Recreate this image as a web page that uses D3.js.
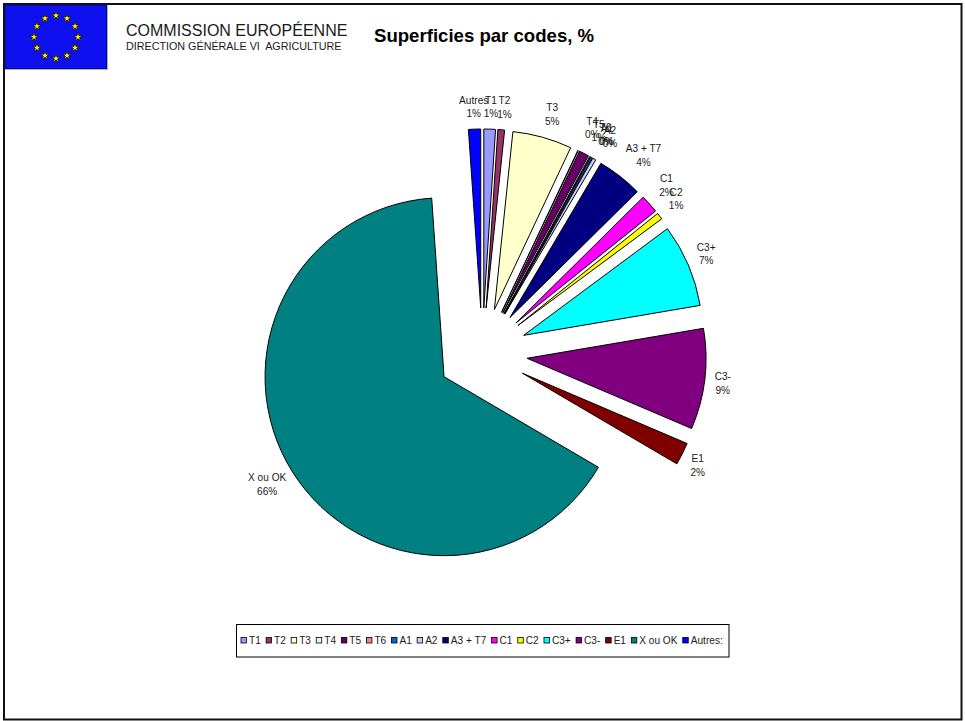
<!DOCTYPE html>
<html lang="fr">
<head>
<meta charset="utf-8">
<title>Superficies par codes, %</title>
<script src="https://cdn.jsdelivr.net/npm/d3@7"></script>
<style>
  html, body { margin: 0; padding: 0; background: #fff; }
  svg { display: block; }
  text { font-family: "Liberation Sans", Arial, sans-serif; fill: #1a1a1a; }
</style>
</head>
<body>
<svg id="chart" width="965" height="721"></svg>
<script>
// Codes in clockwise order, starting at twelve o'clock
const codes = ["T1", "T2", "T3", "T4", "T5", "T6", "A1", "A2", "A3 + T7", "C1", "C2", "C3+", "C3-", "E1", "X ou OK", "Autres:"];
const shares = [1.05, 0.6, 5.36, 0.05, 0.9, 0.08, 0.15, 0.3, 4.11, 1.65, 0.6, 7.49, 9.1, 2.03, 65.5, 1.1];
const colours = ["#9999FF", "#993366", "#FFFFCC", "#CCFFFF", "#660066", "#FF8080", "#0066CC", "#CCCCFF", "#000080", "#FF00FF", "#FFFF00", "#00FFFF", "#800080", "#800000", "#008080", "#0000FF"];

const svg = d3.select("#chart");

// Page frame
svg.append("rect").attr("x", 4).attr("y", 4).attr("width", 957.5).attr("height", 715.5)
  .attr("fill", "#fff").attr("stroke", "#111").attr("stroke-width", 2);

// Flag block with its ring of twelve stars
const flag = svg.append("g");
flag.append("rect").attr("x", 5).attr("y", 5).attr("width", 103).attr("height", 65).attr("fill", "#9db0ff");
flag.append("rect").attr("x", 5).attr("y", 5).attr("width", 101.5).attr("height", 63.5)
  .attr("fill", "#0f10f0").attr("stroke", "#0a0a50").attr("stroke-width", 1);
const starPath = d3.symbol().type(d3.symbolStar).size(22)();
d3.range(12).forEach(i => {
  const a = i / 12 * 2 * Math.PI;
  flag.append("path").attr("d", starPath)
    .attr("transform", `translate(${56 + 22 * Math.sin(a)},${37 - 21.5 * Math.cos(a)})`)
    .attr("fill", "#ffee00").attr("stroke", "#111").attr("stroke-width", 0.7);
});

// Letterhead and title
svg.append("text").attr("x", 126).attr("y", 36).attr("font-size", 16).text("COMMISSION EUROPÉENNE");
svg.append("text").attr("x", 126).attr("y", 50).attr("font-size", 10.75).attr("xml:space", "preserve")
  .text("DIRECTION GÉNÉRALE VI  AGRICULTURE");
svg.append("text").attr("x", 374).attr("y", 42).attr("font-size", 18.6).attr("font-weight", "bold")
  .style("fill", "#000").text("Superficies par codes, %");

// Pie: every slice is pulled out from the hub along its own bisector
const hub = { x: 482.3, y: 353 };
const radius = 179;
const pull = 45;
const labelGap = 10;
const labelLine = 13.5;

const slices = d3.pie().sort(null).value(i => shares[i])(d3.range(codes.length));
const arc = d3.arc().innerRadius(0).outerRadius(radius);
const midAngle = d => (d.startAngle + d.endAngle) / 2;

const pie = svg.append("g").attr("transform", `translate(${hub.x},${hub.y})`);
pie.selectAll("path").data(slices).join("path")
  .attr("d", arc)
  .attr("transform", d => `translate(${pull * Math.sin(midAngle(d))},${-pull * Math.cos(midAngle(d))})`)
  .attr("fill", d => colours[d.data])
  .attr("stroke", "#000").attr("stroke-width", 1).attr("stroke-linejoin", "miter");

// Two-line data labels sit just outside the rim of each slice;
// those over the crowded upper-right sector are eased up and outward
const labels = pie.append("g").attr("font-size", 10.1).attr("text-anchor", "middle");
slices.forEach(d => {
  const name = codes[d.data].replace(":", "");
  const a = midAngle(d);
  const g = labels.append("g");
  const first = g.append("text").attr("y", -2).text(name);
  const second = g.append("text").attr("y", labelLine - 2).text(Math.round(shares[d.data]) + "%");
  const w = Math.max(first.node().getComputedTextLength(), second.node().getComputedTextLength());
  const reach = radius + pull + labelGap;
  const inSector = a < Math.PI / 2;
  const easeX = a < Math.PI / 3 ? 7 * Math.sin(3 * a) : 0;
  const easeY = inSector ? Math.max(0, 4 * Math.cos(2 * (a - 50 * Math.PI / 180))) : 0;
  const x = reach * Math.sin(a) + Math.sin(a) * w / 2 + easeX;
  const y = -reach * Math.cos(a) - Math.cos(a) * labelLine - easeY;
  g.attr("transform", `translate(${x},${y})`);
});

// Legend strip, laid out from the measured label widths
const legendBox = { x: 236.5, y: 624.5, w: 492.5, h: 32.5 };
const legend = svg.append("g");
legend.append("rect").attr("x", legendBox.x).attr("y", legendBox.y)
  .attr("width", legendBox.w).attr("height", legendBox.h)
  .attr("fill", "#fff").attr("stroke", "#000").attr("stroke-width", 1);
let cursor = legendBox.x + 4.5;
codes.forEach((code, i) => {
  legend.append("rect").attr("x", cursor).attr("y", 637.5).attr("width", 5.5).attr("height", 5.5)
    .attr("fill", colours[i]).attr("stroke", "#000").attr("stroke-width", 0.8);
  const t = legend.append("text").attr("x", cursor + 8).attr("y", 643.5).attr("font-size", 10.1).text(code);
  cursor += 8 + t.node().getComputedTextLength() + 5.3;
});
</script>
</body>
</html>
